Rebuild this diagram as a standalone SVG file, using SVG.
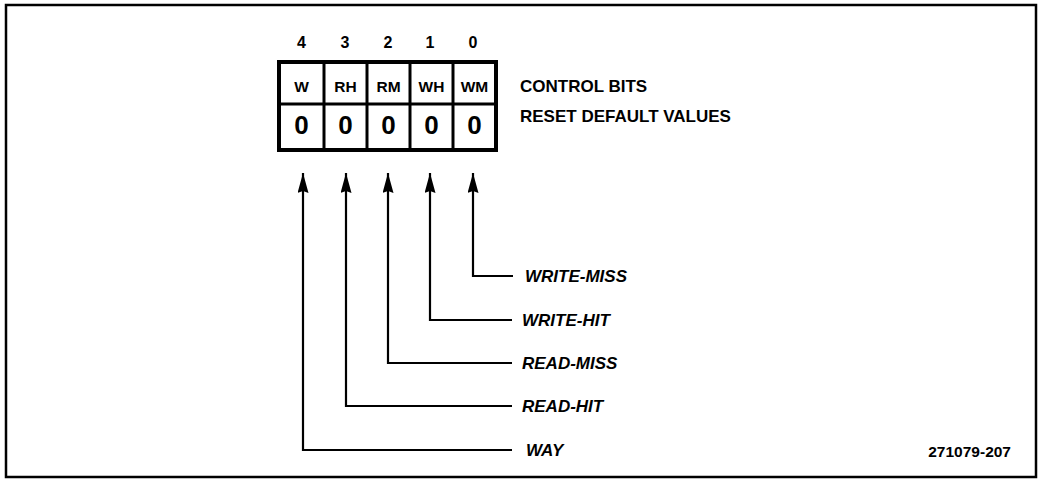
<svg xmlns="http://www.w3.org/2000/svg" width="1038" height="479" viewBox="0 0 1038 479">
<defs>
<marker id="ah" viewBox="0 0 20 11" refX="20" refY="5.5" markerWidth="20" markerHeight="11" markerUnits="userSpaceOnUse" orient="auto">
<path d="M0,0 L20,5.5 L0,11 L2,5.5 Z" fill="#000"/>
</marker>
<style>
.t{font-family:"Liberation Sans",Arial,sans-serif;font-weight:bold;fill:#000}
.lbl{font-family:"Liberation Sans",Arial,sans-serif;font-weight:bold;font-style:italic;font-size:17px;fill:#000}
.conn{fill:none;stroke:#000;stroke-width:2.2}
</style>
</defs>
<rect width="1038" height="479" fill="#fff"/>
<rect x="6" y="5" width="1030" height="472" fill="none" stroke="#000" stroke-width="2.5"/>
<g id="register">
<rect x="279" y="62" width="217" height="88" fill="#fff" stroke="#000" stroke-width="4"/>
<line x1="279" y1="104" x2="496" y2="104" stroke="#000" stroke-width="3"/>
<line x1="324" y1="62" x2="324" y2="150" stroke="#000" stroke-width="3"/>
<line x1="367" y1="62" x2="367" y2="150" stroke="#000" stroke-width="3"/>
<line x1="410" y1="62" x2="410" y2="150" stroke="#000" stroke-width="3"/>
<line x1="453" y1="62" x2="453" y2="150" stroke="#000" stroke-width="3"/>
<g class="t" font-size="16" text-anchor="middle">
<text x="301.5" y="48">4</text>
<text x="345" y="48">3</text>
<text x="388" y="48">2</text>
<text x="430" y="48">1</text>
<text x="473" y="48">0</text>
</g>
<g class="t" font-size="15.5" text-anchor="middle">
<text x="301.5" y="92">W</text>
<text x="345.5" y="92">RH</text>
<text x="388.5" y="92">RM</text>
<text x="431.5" y="92">WH</text>
<text x="474.5" y="92">WM</text>
</g>
<g class="t" font-size="26" text-anchor="middle">
<text x="301.5" y="134">0</text>
<text x="345.5" y="134">0</text>
<text x="388.5" y="134">0</text>
<text x="431.5" y="134">0</text>
<text x="474.5" y="134">0</text>
</g>
<text class="t" font-size="17" x="520" y="92">CONTROL BITS</text>
<text class="t" font-size="17" x="520" y="122">RESET DEFAULT VALUES</text>
</g>
<g id="connectors">
<path class="conn" d="M513,276 H473 V173" marker-end="url(#ah)"/>
<path class="conn" d="M512,320 H430 V173" marker-end="url(#ah)"/>
<path class="conn" d="M512,363 H388 V173" marker-end="url(#ah)"/>
<path class="conn" d="M512,406 H346 V173" marker-end="url(#ah)"/>
<path class="conn" d="M512,450 H303 V173" marker-end="url(#ah)"/>
</g>
<g id="label-write-miss"><text class="lbl" x="525" y="282">WRITE-MISS</text></g>
<g id="label-write-hit"><text class="lbl" x="522" y="326">WRITE-HIT</text></g>
<g id="label-read-miss"><text class="lbl" x="522" y="369">READ-MISS</text></g>
<g id="label-read-hit"><text class="lbl" x="522" y="412">READ-HIT</text></g>
<g id="label-way"><text class="lbl" x="526" y="456">WAY</text></g>
<text class="t" font-size="15.5" x="1011" y="457" text-anchor="end">271079-207</text>
</svg>
